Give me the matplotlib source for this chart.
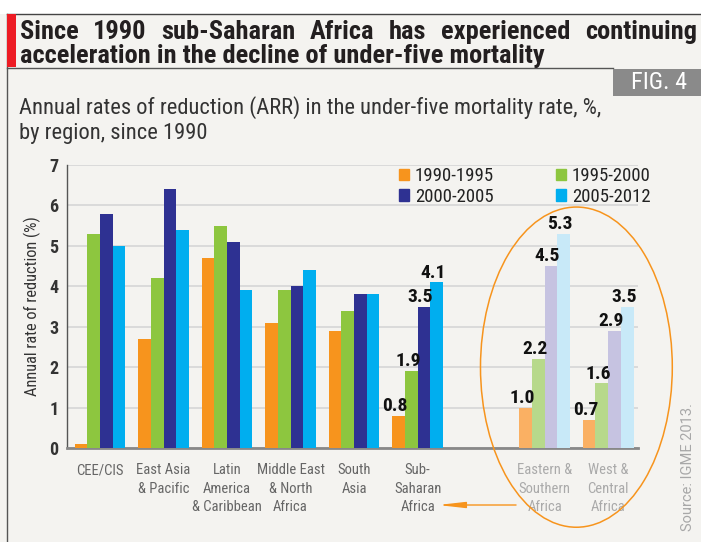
import matplotlib
matplotlib.use("Agg")
import matplotlib.pyplot as plt
from matplotlib.patches import Rectangle, Ellipse
from matplotlib import font_manager as fm
import numpy as np

# ---------------- data ----------------
regions = ["CEE/CIS", "East Asia\n& Pacific", "Latin\nAmerica\n& Caribbean",
           "Middle East\n& North\nAfrica", "South\nAsia", "Sub-\nSaharan\nAfrica",
           "Eastern &\nSouthern\nAfrica", "West &\nCentral\nAfrica"]
positions = [0, 1, 2, 3, 4, 5, 7, 8]
periods = ["1990-1995", "1995-2000", "2000-2005", "2005-2012"]
arr_1990_1995 = [0.1, 2.7, 4.7, 3.1, 2.9, 0.8, 1.0, 0.7]
arr_1995_2000 = [5.3, 4.2, 5.5, 3.9, 3.4, 1.9, 2.2, 1.6]
arr_2000_2005 = [5.8, 6.4, 5.1, 4.0, 3.8, 3.5, 4.5, 2.9]
arr_2005_2012 = [5.0, 5.4, 3.9, 4.4, 3.8, 4.1, 5.3, 3.5]
series = [arr_1990_1995, arr_1995_2000, arr_2000_2005, arr_2005_2012]
labelled = [5, 6, 7]          # groups with value labels
sub_regions = [6, 7]          # faded sub-regions
yticks = [0, 1, 2, 3, 4, 5, 6, 7]

colors = ["#f7941d", "#8dc63f", "#2e3192", "#00aeef"]
light_colors = ["#fab063", "#b7d98b", "#c6c3e1", "#c8e9f8"]

# ---------------- fonts ----------------
names = {f.name for f in fm.fontManager.ttflist}
NARROW = "Roboto Condensed" if "Roboto Condensed" in names else "DejaVu Sans"
REG = "Roboto" if "Roboto" in names else "DejaVu Sans"
plt.rcParams["font.family"] = [NARROW, "DejaVu Sans"]

W, H = 701, 542
fig = plt.figure(figsize=(W / 100, H / 100), dpi=100, facecolor="white")

def px(x, y):
    return x / W, 1 - y / H

# background panel
fig.patches.append(Rectangle((0, 0), 1, 1 - 14 / H, transform=fig.transFigure,
                             facecolor="#f4f3f0", edgecolor="none", zorder=-5))
# top line
fig.add_artist(plt.Line2D([7 / W, 1], [1 - 14 / H] * 2, transform=fig.transFigure,
                          color="#444444", lw=1.0))
# line under title
fig.add_artist(plt.Line2D([7 / W, 613 / W], [1 - 67.5 / H] * 2, transform=fig.transFigure,
                          color="#555555", lw=1.0))
# left frame line
fig.add_artist(plt.Line2D([7 / W] * 2, [0, 1 - 14 / H], transform=fig.transFigure,
                          color="#555555", lw=1.0))
# red bar
fig.patches.append(Rectangle(px(7, 67), 9 / W, 53 / H, transform=fig.transFigure,
                             facecolor="#ed1c24", edgecolor="none", zorder=2))
# FIG. 4 box
fig.patches.append(Rectangle(px(613, 96), 88 / W, 27 / H, transform=fig.transFigure,
                             facecolor="#8a8a8a", edgecolor="none", zorder=2))
fig.text(*px(659, 82.5), "FIG. 4", color="white", fontsize=17.5, ha="center", va="center",
         zorder=3)

# title (justified first line)
title1 = "Since 1990 sub-Saharan Africa has experienced continuing"
title2 = "acceleration in the decline of under-five mortality"
tkw = dict(fontsize=19, fontweight="bold", color="#231f20", va="center")
renderer = fig.canvas.get_renderer()
words = title1.split()
tw = [fig.text(0, 0, w, **tkw) for w in words]
widths = [t.get_window_extent(renderer).width for t in tw]
x0, x1 = 20, 697
gap = (x1 - x0 - sum(widths)) / (len(words) - 1)
xc = x0
for t, w in zip(tw, widths):
    t.set_position(px(xc, 32))
    t.set_ha("left")
    xc += w + gap
fig.text(*px(20, 56), title2, ha="left", **tkw)

# subtitle
fig.text(*px(19, 108), "Annual rates of reduction (ARR) in the under-five mortality rate, %,",
         fontsize=16.2, color="#333333", va="center", ha="left")
fig.text(*px(19, 133), "by region, since 1990", fontsize=16.2, color="#333333",
         va="center", ha="left")

# source
fig.text(*px(688, 467), "Source: IGME 2013.", rotation=90, fontsize=10.5,
         family=[REG, "DejaVu Sans"], color="#a8a8a8", ha="center", va="center")

# ---------------- axes ----------------
ax = fig.add_axes([67 / W, (H - 448) / H, (638 - 67) / W, (448 - 165) / H])
ax.set_facecolor("none")
bw = 0.2
offsets = [-0.3, -0.1, 0.1, 0.3]
handles = []
pos = np.array(positions, dtype=float)
for k, (vals, off) in enumerate(zip(series, offsets)):
    cols = [light_colors[k] if i in sub_regions else colors[k] for i in range(len(vals))]
    b = ax.bar(pos + off, vals, width=bw, color=cols, zorder=3, label=periods[k])
    handles.append(b)
    for i in labelled:
        ax.annotate(f"{vals[i]:.1f}", (pos[i] + off, vals[i]), xytext=(-2.5, 0.5),
                    textcoords="offset points", ha="center", va="bottom",
                    fontsize=14, fontweight="bold", color="#111111", zorder=4)

ax.set_xlim(-0.52, 8.47)
ax.set_ylim(0, 7)
ax.set_yticks(yticks)
ax.set_yticklabels([str(v) for v in yticks], fontsize=13, fontweight="bold", color="#333333")
ax.tick_params(axis="y", length=0, pad=6)
ax.grid(axis="y", color="#d8d8d8", lw=1.3, zorder=0)
ax.set_axisbelow(True)
for s in ["top", "right"]:
    ax.spines[s].set_visible(False)
ax.spines["left"].set_color("#555555")
ax.spines["left"].set_linewidth(1.0)
ax.spines["bottom"].set_color("#888888")
ax.spines["bottom"].set_linewidth(2.0)

ax.set_xticks(positions)
ax.set_xticklabels(regions, fontsize=10.5, color="#666666", linespacing=1.4, va="top")
for i, lab in enumerate(ax.get_xticklabels()):
    if i in sub_regions:
        lab.set_color("#aaaaaa")
ax.tick_params(axis="x", length=0, pad=11)

ax.set_ylabel("Annual rate of reduction (%)", fontsize=11.8, color="#333333", labelpad=6)

# legend
order = [0, 2, 1, 3]
leg = ax.legend([handles[i] for i in order], [periods[i] for i in order], ncol=2,
                loc="upper left", bbox_to_anchor=((397 - 67) / (638 - 67), 1.0),
                frameon=False, fontsize=13.5, handlelength=0.55, handleheight=0.55,
                handletextpad=0.3, columnspacing=3.3, labelspacing=0.15,
                borderaxespad=0.0, borderpad=0.1)
for t in leg.get_texts():
    t.set_color("#222222")
for hnd, i in zip(leg.legend_handles, order):
    hnd.set_color(colors[i])

# ellipse around the sub-regions
ell = Ellipse((7.5, 2.0), 3.02, 7.92, fill=False, edgecolor="#f7941d", lw=1.1,
              clip_on=False, zorder=5)
ax.add_patch(ell)

# arrow pointing to sub-Saharan Africa
ax.annotate("", xy=(5.32, -1.41), xytext=(6.55, -1.41), xycoords="data",
            textcoords="data",
            arrowprops=dict(arrowstyle="-|>,head_length=1.6,head_width=0.18",
                            color="#f7941d", lw=1.0, shrinkA=0, shrinkB=0),
            annotation_clip=False)

fig.savefig("out.png", dpi=100, facecolor=fig.get_facecolor())
